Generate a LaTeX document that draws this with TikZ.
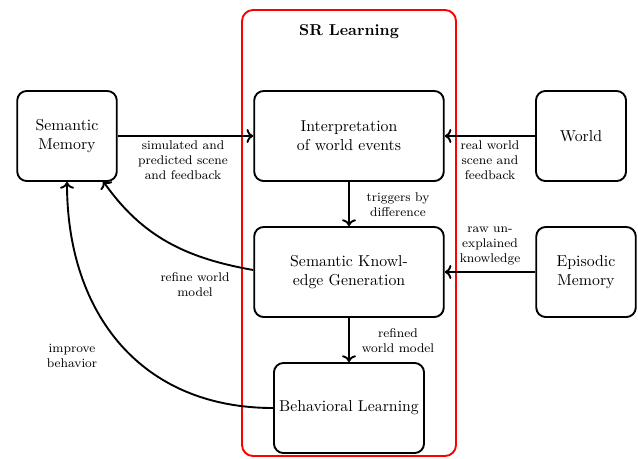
\documentclass[tikz,border=0pt]{standalone}
\usetikzlibrary{arrows.meta}
\begin{document}
\begin{tikzpicture}[x=0.633pt,y=-0.633pt,
  box/.style={draw,line width=1.2pt,rounded corners=6pt,minimum height=57pt,align=center,inner sep=2pt},
  lbl/.style={font=\footnotesize,align=center,inner sep=1pt},
  arr/.style={->,line width=1.2pt}]
\useasboundingbox (0,0) rectangle (638,458);
\draw[red,line width=1.2pt,rounded corners=7pt] (242,10) rectangle (456,456);
\node[font=\bfseries] (title) at (349,32) {SR Learning};
\node[box,minimum width=63pt] (sm) at (67,136) {Semantic\\Memory};
\node[box,minimum width=120pt] (ip) at (349,136) {Interpretation\\of world events};
\node[box,minimum width=57pt] (wo) at (581,136) {World};
\node[box,minimum width=120pt] (skg) at (349,272) {Semantic Knowl-\\edge Generation};
\node[box,minimum width=63pt] (ep) at (586,272) {Episodic\\Memory};
\node[box,minimum width=95pt] (bl) at (349,408) {Behavioral Learning};
\draw[arr] (sm) -- (ip);
\draw[arr] (wo) -- (ip);
\draw[arr] (ip) -- (skg);
\draw[arr] (ep) -- (skg);
\draw[arr] (skg) -- (bl);
\coordinate (smA) at (103,181);
\draw[arr] (skg.west) ++(0,-2) to[out=170,in=-55] (smA);
\draw[arr] (bl.west) to[out=180,in=-90,looseness=1.1] (sm.south);
\node[lbl] (l1) at (183,160) {simulated and\\predicted scene\\and feedback};
\node[lbl] (l2) at (490,160) {real world\\scene and\\feedback};
\node[lbl] (l3) at (398,205) {triggers by\\difference};
\node[lbl] (l4) at (490,246) {raw un-\\explained\\knowledge};
\node[lbl] (l5) at (398,341) {refined\\world model};
\node[lbl] (l6) at (195,285) {refine world\\model};
\node[lbl] (l7) at (72,356) {improve\\behavior};
\end{tikzpicture}
\end{document}
